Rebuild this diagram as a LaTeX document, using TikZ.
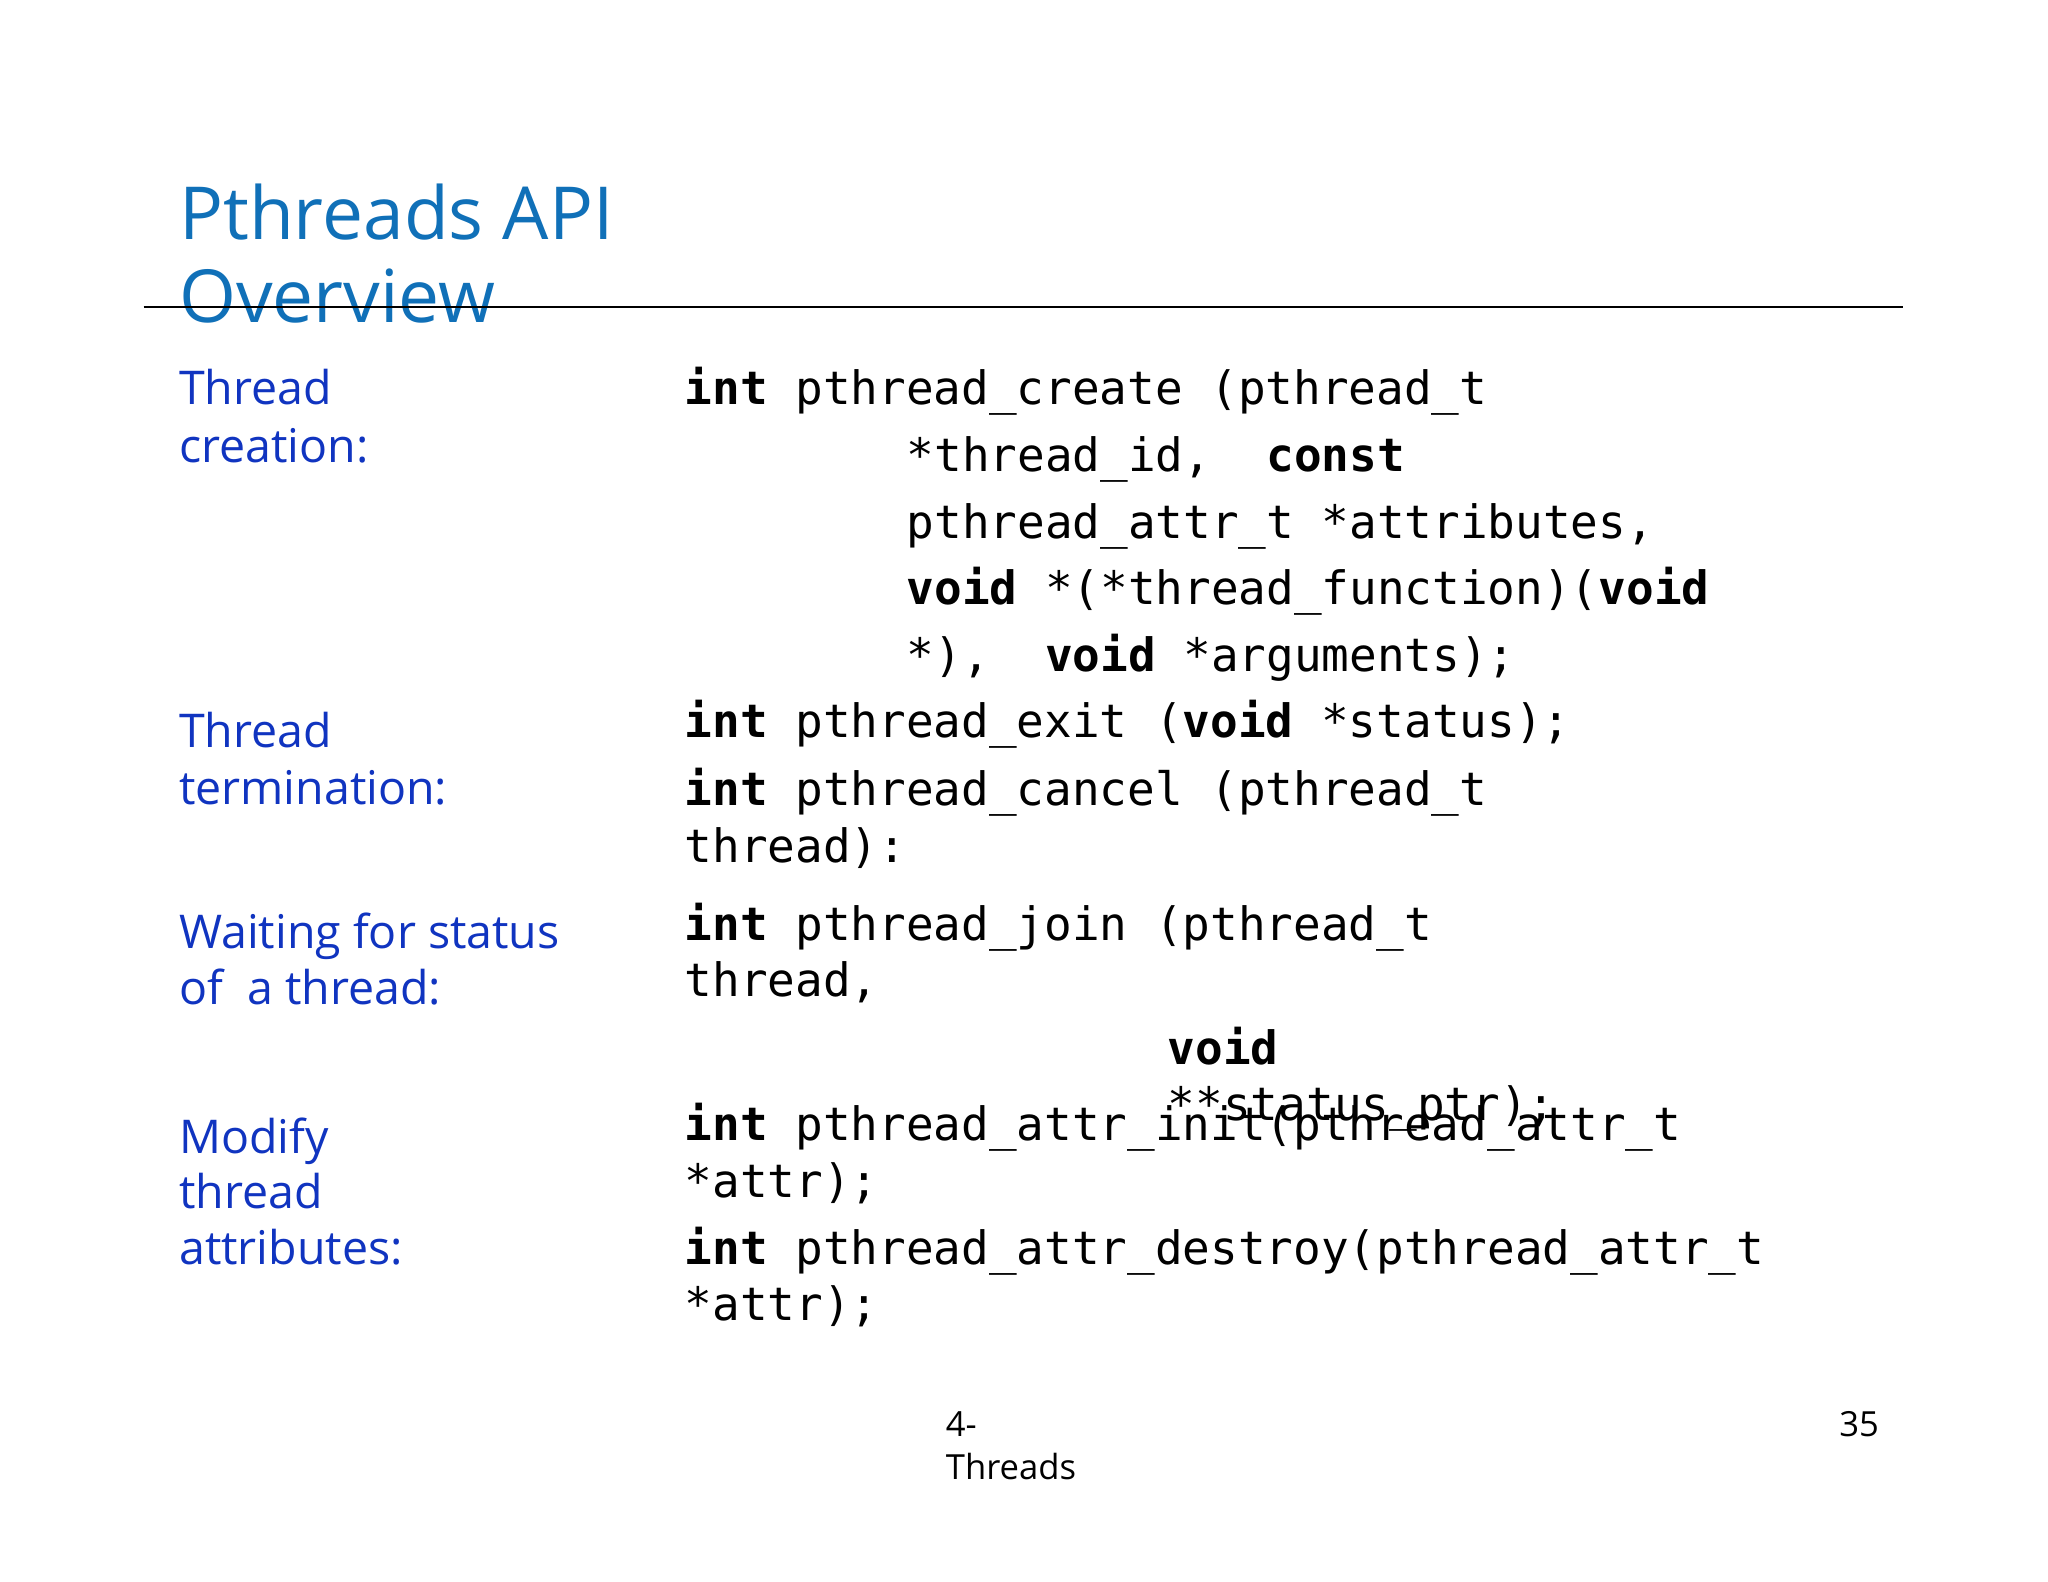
\documentclass[tikz,border=0pt]{standalone}
\usepackage{fontspec}
\setmainfont{Open Sans}
\setmonofont{DejaVu Sans Mono}
\definecolor{titleblue}{HTML}{1070B8}
\definecolor{lblblue}{HTML}{1034C0}
\begin{document}
\begin{tikzpicture}[x=1pt,y=-1pt,
  code/.style={anchor=base west,inner sep=0,font=\fontsize{35.2}{35}\selectfont\ttfamily},
  lbl/.style={anchor=base west,inner sep=0,text=lblblue,font=\fontsize{35.6}{35}\selectfont},
  ttl/.style={anchor=base west,inner sep=0,text=titleblue,font=\fontsize{56}{56}\selectfont},
  foot/.style={anchor=base west,inner sep=0,font=\fontsize{26.5}{26}\selectfont}]
\useasboundingbox[fill=white] (0,0) rectangle (1568,1211);
\node[ttl] (t1) at (137,183) {Pthreads API};
\node[ttl] (t2) at (137,247) {Overview};
\coordinate (la) at (110,235); \coordinate (lb) at (1457,235);
\draw[line width=1.2pt] (la) -- (lb);
\node[lbl] (l1) at (137,310) {Thread};
\node[lbl] (l2) at (137,354) {creation:};
\node[lbl] (l3) at (137,572) {Thread};
\node[lbl] (l4) at (137,616) {termination:};
\node[lbl] (l5) at (137,726) {Waiting for status};
\node[lbl] (l6) at (137,769) {of\ \ a thread:};
\node[lbl] (l7) at (137,883) {Modify};
\node[lbl] (l8) at (137,925) {thread};
\node[lbl] (l9) at (137,968) {attributes:};
\node[code] (c1) at (524,310) {\textbf{int} pthread\_create (pthread\_t};
\node[code] (c2) at (694,361) {*thread\_id,\ \ \textbf{const}};
\node[code] (c3) at (694,412) {pthread\_attr\_t *attributes,};
\node[code] (c4) at (694,463) {\textbf{void} *(*thread\_function)(\textbf{void}};
\node[code] (c5) at (694,514) {*),\ \ \textbf{void} *arguments);};
\node[code] (c6) at (524,565) {\textbf{int} pthread\_exit (\textbf{void} *status);};
\node[code] (c7) at (524,617) {\textbf{int} pthread\_cancel (pthread\_t};
\node[code] (c8) at (524,660) {thread):};
\node[code] (c9) at (524,720) {\textbf{int} pthread\_join (pthread\_t};
\node[code] (c10) at (524,763) {thread,};
\node[code] (c11) at (894,815) {\textbf{void}};
\node[code] (c12) at (894,858) {**status\_ptr);};
\node[code] (c13) at (524,873) {\textbf{int} pthread\_attr\_init(pthread\_attr\_t};
\node[code] (c14) at (524,917) {*attr);};
\node[code] (c15) at (524,968) {\textbf{int} pthread\_attr\_destroy(pthread\_attr\_t};
\node[code] (c16) at (524,1011) {*attr);};
\node[foot] (f1) at (724,1100) {4-};
\node[foot] (f2) at (724,1133) {Threads};
\node[foot] (f3) at (1408,1100) {35};
\end{tikzpicture}
\end{document}
